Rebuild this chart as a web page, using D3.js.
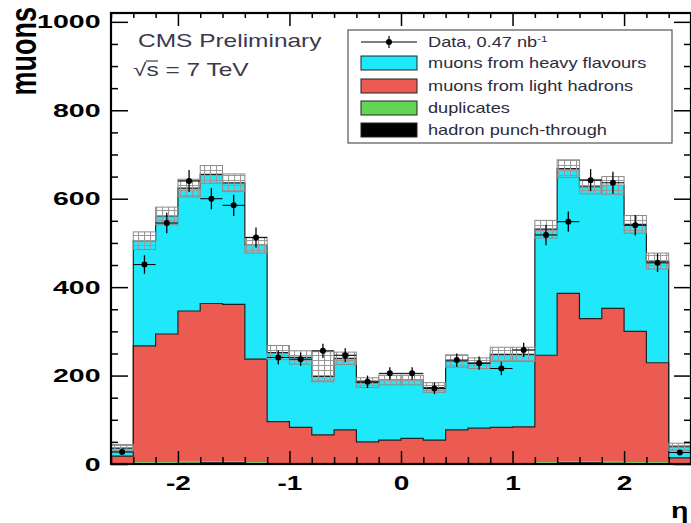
<!DOCTYPE html>
<html>
<head>
<meta charset="utf-8">
<script src="https://cdn.jsdelivr.net/npm/d3@7"></script>
<style>
body { margin: 0; background: #fff; }
svg { display: block; font-family: "Liberation Sans", Arial, sans-serif; }
</style>
</head>
<body>
<svg id="chart" width="691" height="523"></svg>
<script>
// bin lower edges in eta, last bin ends at 2.6
var binLow = [-2.6, -2.4, -2.2, -2.0, -1.8, -1.6, -1.4, -1.2, -1.0, -0.8, -0.6, -0.4, -0.2,
              0.0, 0.2, 0.4, 0.6, 0.8, 1.0, 1.2, 1.4, 1.6, 1.8, 2.0, 2.2, 2.4];
var binWidth = 0.2;

// stacked MC components (muons per bin)
var punchThrough = [1, 2, 2, 3, 4, 4, 2, 1, 1, 1, 1, 1, 1, 1, 1, 1, 1, 1, 1, 2, 4, 4, 3, 2, 2, 1];
var duplicates   = [0, 2, 2, 2, 3, 3, 2, 1, 1, 1, 1, 0, 0, 0, 0, 1, 1, 1, 1, 2, 3, 3, 2, 2, 2, 0];
var lightHadrons = [17, 263, 290, 341, 356, 354, 233, 94, 81, 64, 75, 49, 53, 57, 53, 75, 79, 81, 82, 242, 379, 322, 347, 296, 225, 13];
var heavyFlavour = [18, 238, 267, 278, 292, 275, 258, 156, 158, 132, 162, 134, 136, 132, 119, 156, 147, 165, 164, 285, 282, 298, 278, 242, 230, 25];

// MC uncertainty band (down / up from the stack total)
var mcErrDown = [8, 20, 20, 20, 20, 20, 18, 16, 15, 12, 14, 11, 11, 11, 11, 14, 12, 16, 16, 20, 20, 16, 20, 20, 18, 8];
var mcErrUp   = [8, 20, 20, 20, 20, 20, 18, 16, 15, 56, 14, 11, 11, 11, 11, 14, 12, 16, 16, 20, 20, 16, 20, 20, 18, 8];

// data, 0.47 nb^-1
var dataVal = [27, 451, 545, 640, 600, 585, 512, 241, 237, 256, 246, 186, 205, 205, 171, 235, 228, 216, 258, 518, 548, 642, 636, 540, 455, 26];
var dataErr = [5, 21, 23, 25, 24, 24, 23, 16, 15, 16, 16, 14, 14, 14, 13, 15, 15, 15, 16, 23, 23, 25, 25, 23, 21, 5];

var yMajor = [0, 200, 400, 600, 800, 1000];
var xMajor = [-2, -1, 0, 1, 2];

var keys = ['punch', 'dup', 'light', 'heavy'];
var colors = {heavy: '#1fe8fb', light: '#ec5b52', dup: '#62d653', punch: '#000000'};
var legendEntries = [
    {label: 'muons from heavy flavours', key: 'heavy'},
    {label: 'muons from light hadrons', key: 'light'},
    {label: 'duplicates', key: 'dup'},
    {label: 'hadron punch-through', key: 'punch'}
];

var svg = d3.select('#chart');
var fLeft = 111, fRight = 691, fTop = 13, fBottom = 464;

var x = d3.scaleLinear().domain([-2.6, 2.6]).range([fLeft, fRight]);
var y = d3.scaleLinear().domain([0, 1020]).range([fBottom, fTop]);

var rows = binLow.map(function(lo, i) {
    return {lo: lo, hi: lo + binWidth, punch: punchThrough[i], dup: duplicates[i],
            light: lightHadrons[i], heavy: heavyFlavour[i]};
});
var series = d3.stack().keys(keys)(rows);

var defs = svg.append('defs');
var pat = defs.append('pattern')
    .attr('id', 'band')
    .attr('patternUnits', 'userSpaceOnUse')
    .attr('width', 6)
    .attr('height', 5);
pat.append('path')
    .attr('d', 'M0,0.5H6M0.5,0V5')
    .attr('stroke', '#9a9a9a')
    .attr('stroke-width', 1.2);

defs.append('clipPath').attr('id', 'frame')
    .append('rect')
    .attr('x', fLeft).attr('y', fTop)
    .attr('width', fRight - fLeft).attr('height', fBottom - fTop);

var plot = svg.append('g').attr('clip-path', 'url(#frame)');

// stack layers, ROOT style filled histograms with outline
function stepPoints(s) {
    var pts = [{x: -2.6, v0: 0, v1: 0}];
    s.forEach(function(d) { pts.push({x: d.data.lo, v0: d[0], v1: d[1]}); });
    var last = s[s.length - 1];
    pts.push({x: 2.6, v0: last[0], v1: last[1]});
    pts.push({x: 2.6, v0: 0, v1: 0});
    return pts;
}

var area = d3.area()
    .curve(d3.curveStepAfter)
    .x(function(d) { return x(d.x); })
    .y0(function(d) { return y(d.v0); })
    .y1(function(d) { return y(d.v1); });

var outline = d3.line()
    .curve(d3.curveStepAfter)
    .x(function(d) { return x(d.x); })
    .y(function(d) { return y(d.v1); });

series.slice().reverse().forEach(function(s) {
    plot.append('path')
        .attr('d', area(stepPoints(s)))
        .attr('fill', colors[s.key]);
});
series.forEach(function(s) {
    if (s.key === 'punch' || s.key === 'dup') return;  // too thin to outline
    plot.append('path')
        .attr('d', outline(stepPoints(s)))
        .attr('fill', 'none')
        .attr('stroke', '#222')
        .attr('stroke-width', 1.2);
});

// MC uncertainty band
var totals = series[series.length - 1];
plot.selectAll('rect.band')
    .data(rows)
    .enter().append('rect')
    .attr('class', 'band')
    .attr('x', function(d) { return x(d.lo); })
    .attr('width', function(d) { return x(d.hi) - x(d.lo); })
    .attr('y', function(d, i) { return y(totals[i][1] + mcErrUp[i]); })
    .attr('height', function(d, i) { return y(totals[i][1] - mcErrDown[i]) - y(totals[i][1] + mcErrUp[i]); })
    .attr('fill', 'url(#band)')
    .attr('stroke', '#8c8c8c')
    .attr('stroke-width', 1);

// data points
var pts = plot.selectAll('g.data')
    .data(rows)
    .enter().append('g')
    .attr('class', 'data');
pts.append('line')
    .attr('x1', function(d) { return x(d.lo); })
    .attr('x2', function(d) { return x(d.hi); })
    .attr('y1', function(d, i) { return y(dataVal[i]); })
    .attr('y2', function(d, i) { return y(dataVal[i]); })
    .attr('stroke', '#000').attr('stroke-width', 1);
pts.append('line')
    .attr('x1', function(d) { return x(d.lo + binWidth / 2); })
    .attr('x2', function(d) { return x(d.lo + binWidth / 2); })
    .attr('y1', function(d, i) { return y(dataVal[i] - dataErr[i]); })
    .attr('y2', function(d, i) { return y(dataVal[i] + dataErr[i]); })
    .attr('stroke', '#000').attr('stroke-width', 1.3);
pts.append('circle')
    .attr('cx', function(d) { return x(d.lo + binWidth / 2); })
    .attr('cy', function(d, i) { return y(dataVal[i]); })
    .attr('r', 3)
    .attr('fill', '#000');

// axes, ticks point inside the frame
var yMinor = d3.range(0, 1001, 50).filter(function(v) { return v % 200; });
var xMinor = d3.range(-26, 27, 2).map(function(v) { return v / 10; })
    .filter(function(v) { return Math.abs(v - Math.round(v)) > 1e-6; });
var fmt = function(d) { return String(d); };

function styleAxis(g) {
    g.select('.domain').remove();
    g.selectAll('line').attr('stroke', '#000').attr('stroke-width', 1.5);
}

svg.append('g').attr('transform', 'translate(' + fLeft + ',0)')
    .call(d3.axisLeft(y).tickValues(yMinor).tickSizeInner(-7).tickSizeOuter(0).tickFormat(''))
    .call(styleAxis);
var yAx = svg.append('g').attr('transform', 'translate(' + fLeft + ',0)')
    .call(d3.axisLeft(y).tickValues(yMajor).tickSizeInner(-17).tickSizeOuter(0).tickPadding(7).tickFormat(fmt))
    .call(styleAxis);
yAx.selectAll('text')
    .attr('transform', 'scale(1.5,1)')
    .attr('fill', '#000')
    .style('font-size', '19px')
    .style('font-weight', 'bold')
    .style('font-family', '"Liberation Sans", Arial, sans-serif');

svg.append('g').attr('transform', 'translate(' + fRight + ',0)')
    .call(d3.axisRight(y).tickValues(yMinor).tickSizeInner(-7).tickSizeOuter(0).tickFormat(''))
    .call(styleAxis);
svg.append('g').attr('transform', 'translate(' + fRight + ',0)')
    .call(d3.axisRight(y).tickValues(yMajor).tickSizeInner(-17).tickSizeOuter(0).tickFormat(''))
    .call(styleAxis);

svg.append('g').attr('transform', 'translate(0,' + fBottom + ')')
    .call(d3.axisBottom(x).tickValues(xMinor).tickSizeInner(-7).tickSizeOuter(0).tickFormat(''))
    .call(styleAxis);
var xAx = svg.append('g').attr('transform', 'translate(0,' + fBottom + ')')
    .call(d3.axisBottom(x).tickValues(xMajor).tickSizeInner(-13).tickSizeOuter(0).tickPadding(12).tickFormat(fmt))
    .call(styleAxis);
xAx.selectAll('text')
    .attr('transform', 'scale(1.4,1)')
    .attr('fill', '#000')
    .style('font-size', '20px')
    .style('font-weight', 'bold')
    .style('font-family', '"Liberation Sans", Arial, sans-serif');

svg.append('g').attr('transform', 'translate(0,' + fTop + ')')
    .call(d3.axisTop(x).tickValues(xMinor).tickSizeInner(-5).tickSizeOuter(0).tickFormat(''))
    .call(styleAxis);
svg.append('g').attr('transform', 'translate(0,' + fTop + ')')
    .call(d3.axisTop(x).tickValues(xMajor).tickSizeInner(-13).tickSizeOuter(0).tickFormat(''))
    .call(styleAxis);

svg.append('rect')
    .attr('x', fLeft).attr('y', fTop)
    .attr('width', fRight - fLeft).attr('height', fBottom - fTop)
    .attr('fill', 'none')
    .attr('stroke', '#000')
    .attr('stroke-width', 2.2);

// axis titles
svg.append('text')
    .attr('transform', 'translate(36,7) scale(1.4,1) rotate(-90)')
    .attr('text-anchor', 'end')
    .style('font-size', '27px')
    .style('font-weight', 'bold')
    .text('muons');

svg.append('text')
    .attr('transform', 'translate(671,518) scale(1.3,1)')
    .style('font-size', '22px')
    .style('font-weight', 'bold')
    .text('η');

// CMS labels
svg.append('text')
    .attr('transform', 'translate(138,47) scale(1.36,1)')
    .attr('fill', '#3a3a4c')
    .style('font-size', '18px')
    .text('CMS Preliminary');
var sq = svg.append('g').attr('transform', 'translate(133,76)');
sq.append('text')
    .attr('transform', 'scale(1.36,1)')
    .attr('fill', '#3a3a4c')
    .style('font-size', '18px')
    .text('√s = 7 TeV');
sq.append('line')
    .attr('x1', 13).attr('x2', 25)
    .attr('y1', -15).attr('y2', -15)
    .attr('stroke', '#3a3a4c').attr('stroke-width', 1.2);

// legend
var lg = svg.append('g');
lg.append('rect')
    .attr('x', 348).attr('y', 30)
    .attr('width', 324).attr('height', 113)
    .attr('fill', '#fff')
    .attr('stroke', '#555')
    .attr('stroke-width', 1.2);

var rowY = [42, 63, 86, 108, 130];
lg.append('line')
    .attr('x1', 361).attr('x2', 417).attr('y1', rowY[0]).attr('y2', rowY[0])
    .attr('stroke', '#000').attr('stroke-width', 1.2);
lg.append('line')
    .attr('x1', 389).attr('x2', 389).attr('y1', rowY[0] - 6).attr('y2', rowY[0] + 6)
    .attr('stroke', '#000').attr('stroke-width', 1.2);
lg.append('circle').attr('cx', 389).attr('cy', rowY[0]).attr('r', 3).attr('fill', '#000');
var dt = lg.append('text')
    .attr('transform', 'translate(428,' + (rowY[0] + 5) + ') scale(1.3,1)')
    .attr('fill', '#2c2c3e')
    .style('font-size', '14px');
dt.append('tspan').text('Data, 0.47 nb');
dt.append('tspan').attr('dy', -5).style('font-size', '9px').text('-1');

legendEntries.forEach(function(e, i) {
    var cy = rowY[i + 1];
    lg.append('rect')
        .attr('x', 361).attr('y', cy - 7)
        .attr('width', 56).attr('height', 14)
        .attr('fill', colors[e.key])
        .attr('stroke', '#222').attr('stroke-width', 1);
    lg.append('text')
        .attr('transform', 'translate(428,' + (cy + 5) + ') scale(1.3,1)')
        .attr('fill', '#2c2c3e')
        .style('font-size', '14px')
        .text(e.label);
});
</script>
</body>
</html>
